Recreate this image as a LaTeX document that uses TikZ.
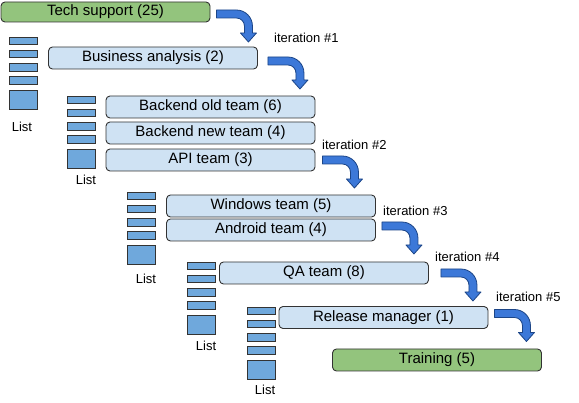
\documentclass[tikz,border=0pt]{standalone}
\usepackage{fontspec}
\setmainfont{Liberation Sans}
\definecolor{techgreen}{HTML}{93C47D}
\definecolor{teamblue}{HTML}{CFE2F3}
\definecolor{listblue}{HTML}{6FA8DC}
\definecolor{arrowblue}{HTML}{3C78D8}
\definecolor{arrowedge}{HTML}{1C4587}
\definecolor{edgegray}{HTML}{333333}
\tikzset{
	team/.style={draw=edgegray, line width=0.9pt, rounded corners=4pt, fill=teamblue, minimum width=209pt, minimum height=22pt, inner sep=0pt, font=\fontsize{15}{18}\selectfont},
	endpoint/.style={team, fill=techgreen},
	listbar/.style={draw=edgegray, line width=0.8pt, fill=listblue},
	iterlabel/.style={anchor=west, inner sep=0pt, font=\fontsize{13}{15}\selectfont},
	listlabel/.style={inner sep=0pt, font=\fontsize{13}{15}\selectfont},
	bentarrow/.style={draw=arrowedge, fill=arrowblue, line width=0.8pt, line join=round}
}
% x, top of the list
\newcommand{\tasklist}[2]{%
	\foreach \k in {0,...,3}
		\draw[listbar] (#1,#2+13.3*\k) rectangle ++(28,7.5);
	\draw[listbar] (#1,#2+53) rectangle ++(28,19);
}
% node, xshift, yshift
\newcommand{\iterarrow}[3]{%
	\begin{scope}[shift={([xshift=#2pt,yshift=#3pt]#1.east)}]
		\draw[bentarrow] (0,-4) -- (20,-4) .. controls (28.8,-4) and (36,3.2) .. (36,12) -- (36,19) -- (40,19) -- (32,28) -- (24,19) -- (28,19) -- (28,12) .. controls (28,7.6) and (24.4,4) .. (20,4) -- (0,4) -- cycle;
	\end{scope}}
\begin{document}
\begin{tikzpicture}[x=1pt, y=-1pt]
	\useasboundingbox (0,0) rectangle (579,403);
	%\draw [help lines, step=10] (0,0) grid (579,403);
	\node[endpoint, minimum height=20pt] (tech) at (105.5,12) {Tech support (25)};
	\node[team] (business) at (153,58) {Business analysis (2)};
	\node[team] (oldteam) at (210.5,107) {Backend old team (6)};
	\node[team] (newteam) at (210.5,133) {Backend new team (4)};
	\node[team] (api) at (210.5,160) {API team (3)};
	\node[team] (windows) at (271,206) {Windows team (5)};
	\node[team] (android) at (271,230) {Android team (4)};
	\node[team] (qa) at (324,273) {QA team (8)};
	\node[team] (release) at (383.5,317.5) {Release manager (1)};
	\node[endpoint] (training) at (437,360) {Training (5)};
	\tasklist{9}{37}
	\tasklist{67}{96}
	\tasklist{127}{192}
	\tasklist{187}{262}
	\tasklist{247}{307}
	\node[listlabel] (list1) at (22,127) {List};
	\node[listlabel] (list2) at (86,180) {List};
	\node[listlabel] (list3) at (146,279) {List};
	\node[listlabel] (list4) at (206,346) {List};
	\node[listlabel] (list5) at (265,390) {List};
	\iterarrow{tech}{6}{-2}
	\iterarrow{business}{10}{-3}
	\iterarrow{api}{7}{0}
	\iterarrow{android}{6}{4}
	\iterarrow{qa}{12}{0}
	\iterarrow{release}{6}{4}
	\node[iterlabel] (iter1) at (274,38) {iteration \#1};
	\node[iterlabel] (iter2) at (322,145) {iteration \#2};
	\node[iterlabel] (iter3) at (383,211) {iteration \#3};
	\node[iterlabel] (iter4) at (435,257) {iteration \#4};
	\node[iterlabel] (iter5) at (496,297) {iteration \#5};
\end{tikzpicture}
\end{document}
